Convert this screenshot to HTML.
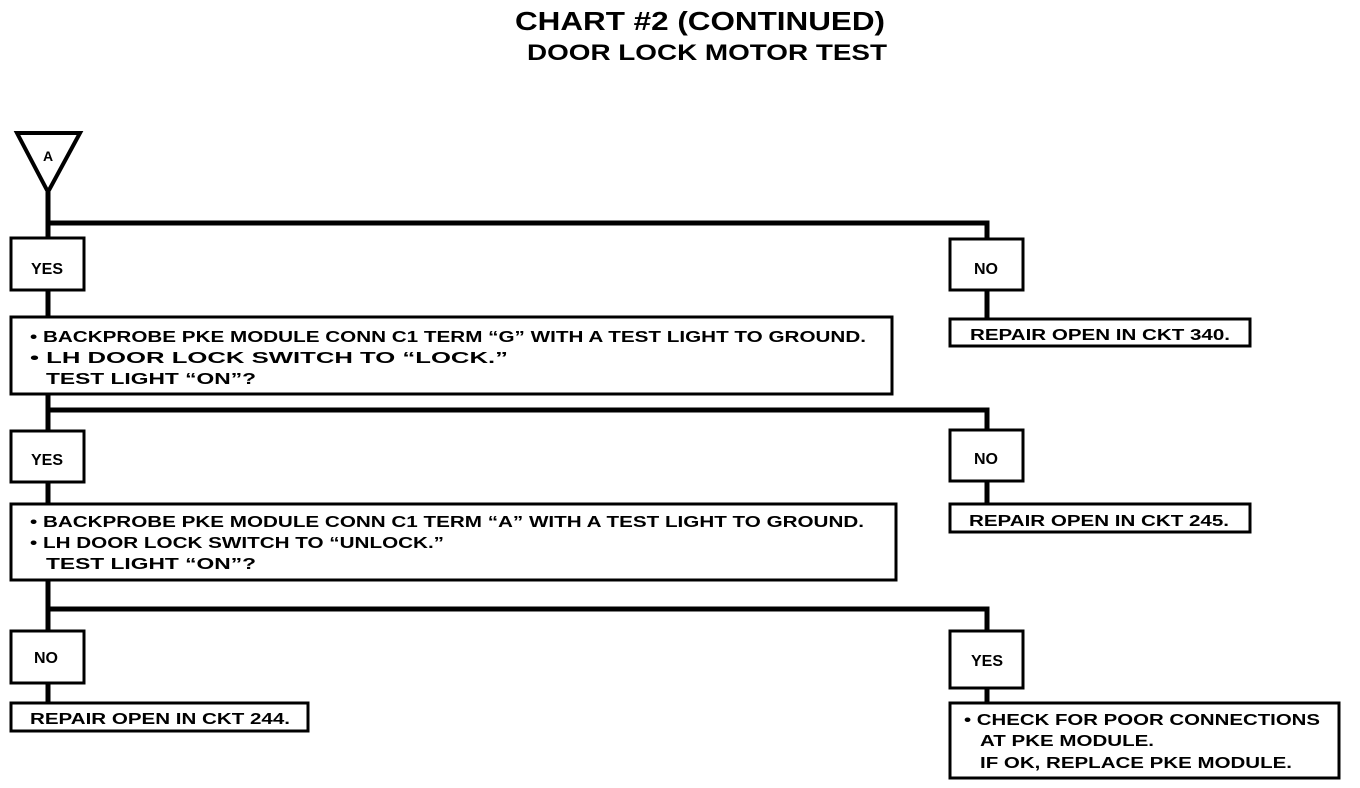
<!DOCTYPE html>
<html><head><meta charset="utf-8"><style>
html,body{margin:0;padding:0;background:#fff;}
svg{display:block;}
text{font-family:"Liberation Sans",Arial,sans-serif;font-weight:bold;fill:#000;}
</style></head><body>
<svg width="1360" height="788" viewBox="0 0 1360 788" xmlns="http://www.w3.org/2000/svg">
<text x="700" y="30" font-size="26" text-anchor="middle" textLength="370" lengthAdjust="spacingAndGlyphs">CHART #2 (CONTINUED)</text>
<text x="707" y="60" font-size="22" text-anchor="middle" textLength="360" lengthAdjust="spacingAndGlyphs">DOOR LOCK MOTOR TEST</text>

<g stroke="#000" fill="none">
<polygon points="17,133 80,133 48,192" stroke-width="4" fill="#fff"/>
<!-- main vertical -->
<line x1="48" y1="192" x2="48" y2="702" stroke-width="5"/>
<!-- branches -->
<polyline points="48,223 987,223 987,238" stroke-width="5"/>
<polyline points="48,410 987,410 987,430" stroke-width="5"/>
<polyline points="48,609 987,609 987,630" stroke-width="5"/>
<line x1="987" y1="290" x2="987" y2="318" stroke-width="5"/>
<line x1="987" y1="481" x2="987" y2="504" stroke-width="5"/>
<line x1="987" y1="688" x2="987" y2="703" stroke-width="5"/>
</g>
<g stroke="#000" stroke-width="3" fill="#fff">
<rect x="11" y="238" width="73" height="52"/>
<rect x="11" y="317" width="881" height="77"/>
<rect x="950" y="239" width="73" height="51"/>
<rect x="950" y="319" width="300" height="27"/>
<rect x="11" y="431" width="73" height="51"/>
<rect x="950" y="430" width="73" height="51"/>
<rect x="950" y="504" width="300" height="28"/>
<rect x="11" y="504" width="885" height="76"/>
<rect x="11" y="631" width="73" height="52"/>
<rect x="11" y="703" width="297" height="28"/>
<rect x="950" y="631" width="73" height="57"/>
<rect x="950" y="703" width="389" height="75"/>
</g>
<text x="47" font-size="16" y="274" text-anchor="middle">YES</text>
<text x="47" font-size="16" y="465" text-anchor="middle">YES</text>
<text x="46" font-size="16" y="663" text-anchor="middle">NO</text>
<text x="986" font-size="16" y="274" text-anchor="middle">NO</text>
<text x="986" font-size="16" y="464" text-anchor="middle">NO</text>
<text x="987" font-size="16" y="666" text-anchor="middle">YES</text>

<text x="30" y="342" font-size="16" textLength="836" lengthAdjust="spacingAndGlyphs">• BACKPROBE PKE MODULE CONN C1 TERM “G” WITH A TEST LIGHT TO GROUND.</text>
<text x="30" y="363" font-size="16" textLength="478" lengthAdjust="spacingAndGlyphs">• LH DOOR LOCK SWITCH TO “LOCK.”</text>
<text x="46" y="384" font-size="16" textLength="210" lengthAdjust="spacingAndGlyphs">TEST LIGHT “ON”?</text>

<text x="30" y="527" font-size="16" textLength="834" lengthAdjust="spacingAndGlyphs">• BACKPROBE PKE MODULE CONN C1 TERM “A” WITH A TEST LIGHT TO GROUND.</text>
<text x="30" y="548" font-size="16" textLength="414" lengthAdjust="spacingAndGlyphs">• LH DOOR LOCK SWITCH TO “UNLOCK.”</text>
<text x="46" y="569" font-size="16" textLength="210" lengthAdjust="spacingAndGlyphs">TEST LIGHT “ON”?</text>

<text x="970" y="340" font-size="16" textLength="260" lengthAdjust="spacingAndGlyphs">REPAIR OPEN IN CKT 340.</text>
<text x="969" y="526" font-size="16" textLength="260" lengthAdjust="spacingAndGlyphs">REPAIR OPEN IN CKT 245.</text>
<text x="30" y="724" font-size="16" textLength="260" lengthAdjust="spacingAndGlyphs">REPAIR OPEN IN CKT 244.</text>

<text x="964" y="725" font-size="16" textLength="356" lengthAdjust="spacingAndGlyphs">• CHECK FOR POOR CONNECTIONS</text>
<text x="980" y="746" font-size="16" textLength="174" lengthAdjust="spacingAndGlyphs">AT PKE MODULE.</text>
<text x="980" y="768" font-size="16" textLength="312" lengthAdjust="spacingAndGlyphs">IF OK, REPLACE PKE MODULE.</text>

<text x="48" y="161" font-size="14" text-anchor="middle">A</text>
</svg>
</body></html>
